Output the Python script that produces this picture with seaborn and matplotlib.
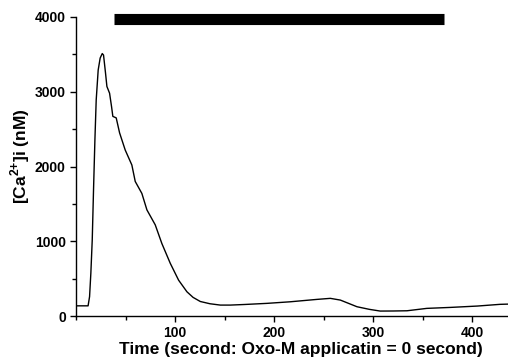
import numpy as np
import pandas as pd
import matplotlib
matplotlib.use("Agg")
import matplotlib.pyplot as plt
import seaborn as sns
from matplotlib.ticker import MultipleLocator

### Trace (time in s, [Ca2+]i in nM)
time = [0, 6, 12, 13.5, 14.8, 16.2, 17.5, 18.9, 20.2, 22.2, 24.2, 26.3, 27.6,
        29.6, 31, 33.7, 35.7, 37, 40.4, 43.8, 49.5, 56.2, 59.6, 66.3, 71.4,
        79.8, 86.5, 95, 103.4, 111.8, 118, 125.3, 135, 145.5, 155.6, 170,
        192.6, 216, 243, 256.6, 266.7, 283.5, 296, 307, 320, 334, 354, 378,
        405, 428, 436]
calcium = [137, 137, 137, 260, 575, 1020, 1690, 2360, 2890, 3290, 3450, 3510,
           3490, 3250, 3070, 2980, 2800, 2670, 2650, 2450, 2220, 2020, 1800,
           1640, 1420, 1220, 970, 705, 480, 325, 250, 195, 165, 147, 147, 155,
           170, 191, 223, 237, 214, 125, 90, 67, 68, 71, 103, 116, 134, 157,
           160]

# Oxo-M application bar
bar_start = 38
bar_end = 371
bar_level = 3970

df = pd.DataFrame({"time": time, "calcium": calcium})

sns.set_style("ticks")
plt.rcParams["font.family"] = ["Liberation Sans", "DejaVu Sans"]
plt.rcParams["mathtext.fontset"] = "custom"
plt.rcParams["mathtext.rm"] = "Liberation Sans:bold"
plt.rcParams["mathtext.bf"] = "Liberation Sans:bold"
plt.rcParams["text.color"] = "black"
plt.rcParams["axes.labelcolor"] = "black"
plt.rcParams["xtick.color"] = "black"
plt.rcParams["ytick.color"] = "black"
plt.rcParams["axes.edgecolor"] = "black"

fig = plt.figure(figsize=(5.08, 3.6), dpi=100)
ax = fig.add_axes([0.15, 0.122, 0.85, 0.831])

sns.lineplot(data=df, x="time", y="calcium", ax=ax, color="black", linewidth=1.0)
ax.plot([bar_start, bar_end], [bar_level, bar_level], color="black",
        linewidth=8, solid_capstyle="butt", clip_on=False)

ax.set_xlim(0, 436)
ax.set_ylim(0, 4000)
ax.set_xticks([100, 200, 300, 400])
ax.xaxis.set_minor_locator(MultipleLocator(50))
ax.set_yticks([0, 1000, 2000, 3000, 4000])
ax.yaxis.set_minor_locator(MultipleLocator(500))
ax.tick_params(which="major", length=4, width=1, labelsize=10)
ax.tick_params(which="minor", length=3, width=1)
for lab in ax.get_xticklabels() + ax.get_yticklabels():
    lab.set_fontweight("bold")

ax.set_xlabel("Time (second: Oxo-M applicatin = 0 second)", fontsize=12.5,
              fontweight="bold")
ax.set_ylabel("[Ca$^{2{+}}$]i (nM)", fontsize=12.5, fontweight="bold")
ax.xaxis.set_label_coords(0.52, -0.087)
ax.yaxis.set_label_coords(-0.102, 0.535)

sns.despine(ax=ax)
ax.spines["left"].set_linewidth(1)
ax.spines["bottom"].set_linewidth(1)

fig.savefig("out.png", dpi=100)
